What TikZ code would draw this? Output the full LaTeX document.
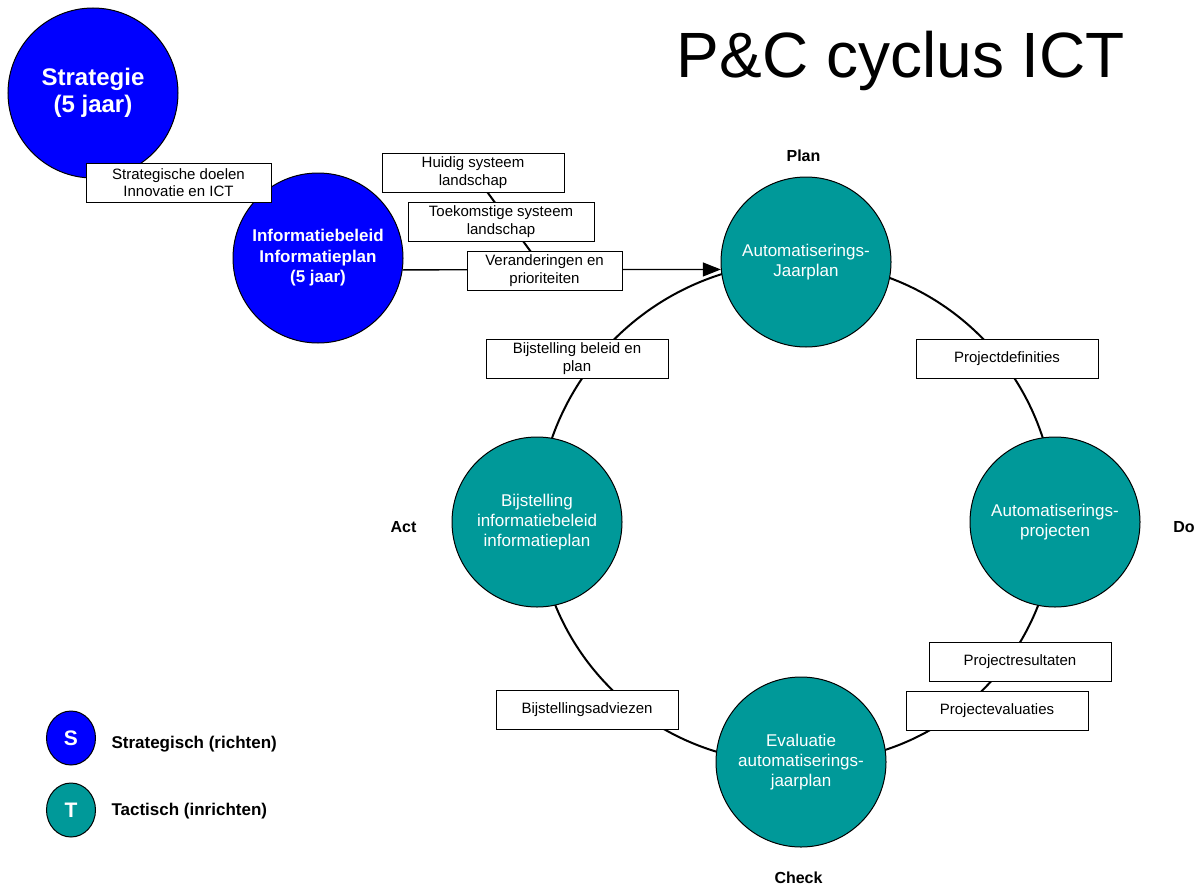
\documentclass[tikz,border=0pt]{standalone}
\usepackage{fontspec}
\setmainfont{Liberation Sans}
\usetikzlibrary{arrows.meta,backgrounds,shapes.geometric}
\definecolor{sblue}{RGB}{0,0,255}
\definecolor{tteal}{RGB}{0,153,153}
\begin{document}
\begin{tikzpicture}[x=1pt,y=-1pt,
  bigcirc/.style={circle,draw=black,line width=1pt,minimum size=170pt,inner sep=0pt,text=white,align=center},
  stratc/.style={bigcirc,fill=sblue,font=\bfseries\fontsize{17}{20.5}\selectfont},
  tactc/.style={bigcirc,fill=tteal,font=\fontsize{17}{20}\selectfont},
  lbl/.style={draw=black,fill=white,line width=1pt,minimum width=182pt,minimum height=39pt,inner sep=0pt,align=center,font=\fontsize{15}{17.5}\selectfont},
  phase/.style={anchor=base,font=\bfseries\fontsize{16}{18}\selectfont},
  ringline/.style={line width=2pt},
  legc/.style={ellipse,draw=black,line width=1pt,minimum width=49pt,minimum height=54pt,inner sep=0pt,text=white,font=\bfseries\fontsize{21}{24}\selectfont},
  legt/.style={anchor=base west,font=\bfseries\fontsize{17}{19}\selectfont},
]
\useasboundingbox (0,0) rectangle (1201,886);

% title
\node[anchor=base,font=\fontsize{64}{68}\selectfont] (title) at (901,77) {P\&C cyclus ICT};

% strategic circles
\node[stratc,font=\bfseries\fontsize{24}{27.5}\selectfont] (strat) at (93,93) {Strategie\\(5 jaar)};
\node[stratc] (info) at (318,258) {Informatiebeleid\\Informatieplan\\(5 jaar)};

% tactical circles
\node[tactc] (plan) at (806,262) {Automatiserings-\\Jaarplan};
\node[tactc] (do) at (1055,522) {Automatiserings-\\projecten};
\node[tactc] (check) at (801,762) {Evaluatie\\automatiserings-\\jaarplan};
\node[tactc] (act) at (537,522) {Bijstelling\\informatiebeleid\\informatieplan};

% phase labels
\node[phase] (lplan) at (803.5,161) {Plan};
\node[phase] (ldo) at (1184,532) {Do};
\node[phase] (lcheck) at (798.5,883) {Check};
\node[phase] (lact) at (403.5,532) {Act};

% label boxes
\node[lbl,minimum width=185pt] (sdoel) at (178.5,182.5) {Strategische doelen\\Innovatie en ICT};
\node[lbl] (huidig) at (473,172.5) {Huidig systeem\\landschap};
\node[lbl,minimum width=186pt] (toek) at (501,221.5) {Toekomstige systeem\\landschap};
\node[lbl,minimum width=155pt] (verand) at (544.5,270.5) {Veranderingen en\\prioriteiten};
\node[lbl] (projdef) at (1007,359) {Projectdefinities};
\node[lbl] (projres) at (1020,662) {Projectresultaten};
\node[lbl] (projeval) at (997,710.5) {Projectevaluaties};
\node[lbl] (bijst) at (577,358.5) {Bijstelling beleid en\\plan};
\node[lbl] (bijstadv) at (587,709.5) {Bijstellingsadviezen};

% legend
\node[legc,fill=sblue] (legs) at (71,738) {S};
\node[legc,fill=tteal] (legtc) at (71,810) {T};
\node[legt] (legst) at (108,748) {Strategisch (richten)};
\node[legt] (legtt) at (108,815) {Tactisch (inrichten)};

\begin{scope}[on background layer]
  \fill[white] (0,0) rectangle (1201,886);
  \draw[ringline] (plan.center) to[bend left=45] (do.center);
  \draw[ringline] (do.center) to[bend left=45] (check.center);
  \draw[ringline] (check.center) to[bend left=45] (act.center);
  \draw[ringline] (act.center) to[bend left=45] (plan.center);
  \draw[line width=2pt] (huidig.center) -- (verand.center);
  \draw[line width=1.3pt,-{Triangle[length=18pt,width=14pt]}] (info.-8) -- (plan.185);
\end{scope}
\end{tikzpicture}
\end{document}
